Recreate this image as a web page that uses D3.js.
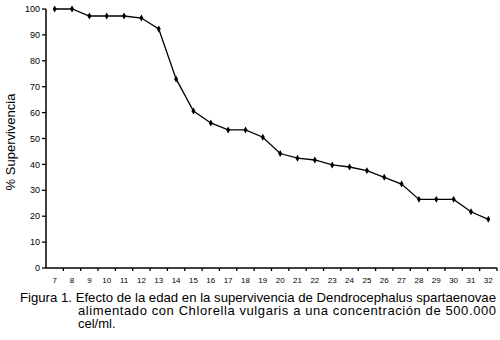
<!DOCTYPE html>
<html>
<head>
<meta charset="utf-8">
<script src="https://cdn.jsdelivr.net/npm/d3@7"></script>
<style>
  body { margin: 0; background: #fff; }
  svg { display: block; font-family: "Liberation Sans", Arial, sans-serif; }
</style>
</head>
<body>
<svg id="chart" width="500" height="340"></svg>
<script>
// días de edad y % de supervivencia
const dias = [7, 8, 9, 10, 11, 12, 13, 14, 15, 16, 17, 18, 19, 20, 21, 22, 23, 24, 25, 26, 27, 28, 29, 30, 31, 32];
const supervivencia = [100, 100, 97.3, 97.3, 97.3, 96.5, 92.3, 73, 60.6, 56, 53.3, 53.3, 50.5, 44.2, 42.4, 41.7, 39.8, 39, 37.6, 35, 32.4, 26.5, 26.5, 26.5, 21.7, 18.8];
const yTicks = [0, 10, 20, 30, 40, 50, 60, 70, 80, 90, 100];
const captionLines = [
  "Figura 1. Efecto de la edad en la supervivencia de Dendrocephalus spartaenovae",
  "alimentado con Chlorella vulgaris a una concentración de 500.000",
  "cel/ml."
];

const svg = d3.select("#chart");
const mLeft = 46, mRight = 497, mTop = 9, mBottom = 268;

const x = d3.scaleBand().domain(dias).range([mLeft, mRight]).padding(0);
const y = d3.scaleLinear().domain([0, 100]).range([mBottom, mTop]);

// eje Y
svg.append("line")
  .attr("x1", mLeft).attr("x2", mLeft)
  .attr("y1", mTop).attr("y2", mBottom)
  .attr("stroke", "#000").attr("stroke-width", 1.5);
svg.append("g")
  .selectAll("line")
  .data(yTicks)
  .join("line")
  .attr("x1", mLeft - 4).attr("x2", mLeft)
  .attr("y1", d => y(d)).attr("y2", d => y(d))
  .attr("stroke", "#000").attr("stroke-width", 1.3);
svg.append("g")
  .selectAll("text")
  .data(yTicks)
  .join("text")
  .attr("x", mLeft - 6)
  .attr("y", d => y(d))
  .attr("dy", "0.35em")
  .attr("text-anchor", "end")
  .attr("font-size", "9px")
  .text(d => d);

// eje X
svg.append("line")
  .attr("x1", mLeft).attr("x2", mRight)
  .attr("y1", mBottom).attr("y2", mBottom)
  .attr("stroke", "#000").attr("stroke-width", 1.5);
svg.append("g")
  .selectAll("line")
  .data(dias)
  .join("line")
  .attr("x1", d => x(d) + x.bandwidth()).attr("x2", d => x(d) + x.bandwidth())
  .attr("y1", mBottom).attr("y2", mBottom + 3)
  .attr("stroke", "#000").attr("stroke-width", 1.3);
svg.append("g")
  .selectAll("text")
  .data(dias)
  .join("text")
  .attr("x", d => x(d) + x.bandwidth() / 2)
  .attr("y", mBottom + 15)
  .attr("text-anchor", "middle")
  .attr("font-size", "8px")
  .text(d => d);

// título eje Y
svg.append("text")
  .attr("transform", "translate(15,142) rotate(-90)")
  .attr("text-anchor", "middle")
  .attr("font-size", "13px")
  .text("% Supervivencia");

// línea
const pts = dias.map((d, i) => [x(d) + x.bandwidth() / 2, y(supervivencia[i])]);
svg.append("path")
  .attr("d", d3.line()(pts))
  .attr("fill", "none")
  .attr("stroke", "#000")
  .attr("stroke-width", 1.3);

// marcadores (rombos)
svg.append("g")
  .selectAll("path")
  .data(pts)
  .join("path")
  .attr("transform", d => "translate(" + d[0] + "," + d[1] + ")")
  .attr("d", d3.symbol(d3.symbolDiamond, 14)())
  .attr("fill", "#000");

// pie de figura
svg.append("text")
  .attr("x", 20).attr("y", 302)
  .attr("font-size", "13px")
  .attr("textLength", 476).attr("lengthAdjust", "spacingAndGlyphs")
  .text(captionLines[0]);
svg.append("text")
  .attr("x", 78).attr("y", 315)
  .attr("font-size", "13px")
  .attr("textLength", 418).attr("lengthAdjust", "spacing")
  .text(captionLines[1]);
svg.append("text")
  .attr("x", 78).attr("y", 328)
  .attr("font-size", "13px")
  .text(captionLines[2]);
</script>
</body>
</html>
